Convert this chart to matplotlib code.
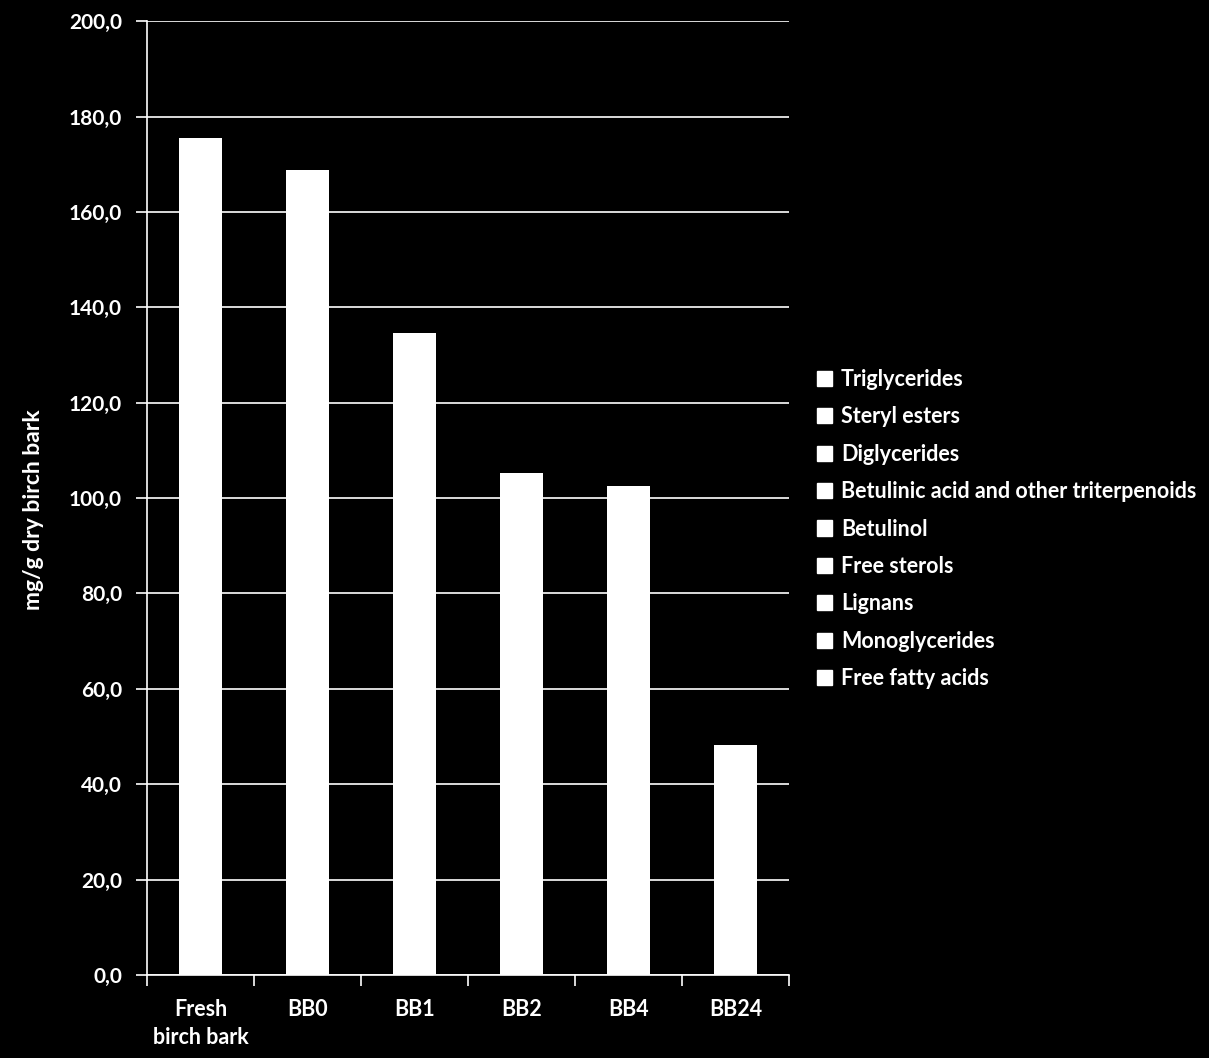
import matplotlib
matplotlib.use("Agg")
import matplotlib.pyplot as plt
from matplotlib.patches import Patch
from matplotlib.ticker import FuncFormatter, MultipleLocator
import numpy as np

# Sample names and total extractives (mg/g dry birch bark)
samples = ["Fresh\nbirch bark", "BB0", "BB1", "BB2", "BB4", "BB24"]
totals = [175.5, 168.8, 134.6, 105.2, 102.5, 48.2]

# Component names shown in legend (all drawn in white in the original)
components = ["Triglycerides", "Steryl esters", "Diglycerides",
              "Betulinic acid and other triterpenoids", "Betulinol",
              "Free sterols", "Lignans", "Monoglycerides", "Free fatty acids"]

plt.rcParams['font.family'] = ['Lato', 'DejaVu Sans']
plt.rcParams['font.weight'] = 'bold'

fig = plt.figure(figsize=(12.09, 10.58), dpi=100, facecolor='black')
ax = fig.add_axes([0.1216, 0.0785, 0.531, 0.9015])
ax.set_facecolor('black')

x = np.arange(len(samples))
ax.bar(x, totals, width=0.41, color='white', zorder=3)

ax.set_xlim(-0.5, len(samples) - 0.5)
ax.set_ylim(0, 200)
ax.yaxis.set_major_locator(MultipleLocator(20))
ax.yaxis.set_major_formatter(FuncFormatter(lambda v, p: f"{v:.1f}".replace('.', ',')))
ax.grid(axis='y', color='white', linewidth=1.2, zorder=0)

ax.set_xticks(x)
ax.set_xticklabels(samples, color='white', fontsize=15.5, fontweight='bold', linespacing=1.45)
ax.set_xticks(np.arange(-0.5, len(samples)), minor=True)
ax.tick_params(axis='x', which='major', length=0, pad=17)
ax.tick_params(axis='x', which='minor', length=8, color='white', width=1.2)
ax.tick_params(axis='y', colors='white', labelsize=15, length=8, width=1.2, pad=10)
for lab in ax.get_yticklabels():
    lab.set_fontweight('bold')

for s in ['top', 'right']:
    ax.spines[s].set_visible(False)
for s in ['left', 'bottom']:
    ax.spines[s].set_color('white')
    ax.spines[s].set_linewidth(1.2)

ax.set_ylabel("mg/g dry birch bark", color='white', fontsize=16.5, fontweight='bold')
ax.yaxis.set_label_coords(-0.16, 0.488)

handles = [Patch(facecolor='white', edgecolor='white') for _ in components]
leg = fig.legend(handles, components, loc='center left', bbox_to_anchor=(0.66, 0.5),
                 frameon=False, fontsize=15.5, labelspacing=0.76,
                 handlelength=0.7, handleheight=0.7, handletextpad=0.4)
for t in leg.get_texts():
    t.set_color('white')
    t.set_fontweight('bold')

fig.savefig("out.png", dpi=100, facecolor='black')
